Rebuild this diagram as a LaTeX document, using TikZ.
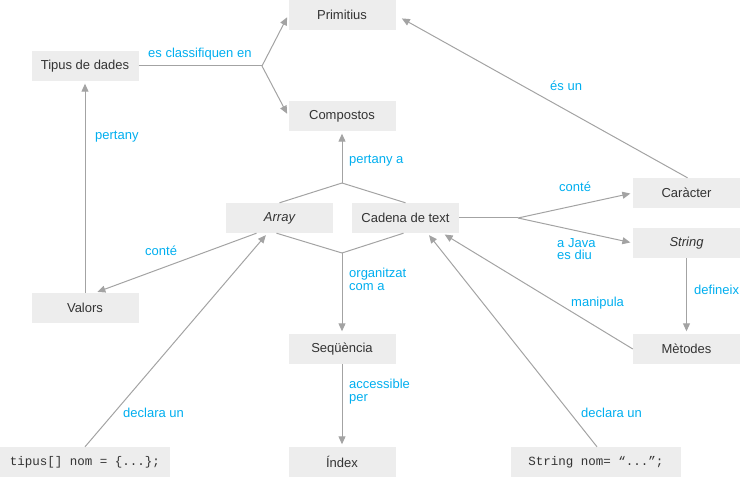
\documentclass[tikz,border=0pt]{standalone}
\usepackage{fontspec}
\setmainfont{Liberation Sans}
\newfontfamily\codefont{Liberation Mono}
\usetikzlibrary{arrows.meta}
\definecolor{boxgray}{HTML}{EDEDED}
\definecolor{linegray}{HTML}{A3A3A3}
\definecolor{lblblue}{HTML}{00AEEF}
\definecolor{txtgray}{HTML}{333333}
\begin{document}
\begin{tikzpicture}[x=1pt,y=-1pt,
  concept/.style={fill=boxgray, text=txtgray, minimum width=107pt, minimum height=30pt, inner sep=0pt, font=\fontsize{13}{15}\selectfont},
  codebox/.style={concept, minimum width=170pt, font=\codefont\fontsize{12.5}{15}\selectfont},
  lbl/.style={text=lblblue, inner sep=0pt, anchor=base west, align=left, font=\fontsize{13}{13}\selectfont},
  link/.style={draw=linegray, line width=1pt},
  arrow/.style={link, -{Triangle[length=8pt,width=7pt]}, shorten >=2.5pt}]
\useasboundingbox (0,0) rectangle (741,478);
% concepts
\node[concept] (pri) at (342,15) {Primitius};
\node[concept] (tip) at (85,66) {Tipus de dades};
\node[concept] (com) at (342,116) {Compostos};
\node[concept] (ary) at (279.5,218) {\itshape Array};
\node[concept] (cad) at (405.5,218) {Cadena de text};
\node[concept] (car) at (686.5,193) {Caràcter};
\node[concept] (str) at (686.5,243) {\itshape String};
\node[concept] (val) at (85,308) {Valors};
\node[concept] (seq) at (342,349) {Seqüència};
\node[concept] (met) at (686.5,349) {Mètodes};
\node[concept] (idx) at (342,462) {Índex};
\node[codebox] (cod1) at (85,462) {tipus[] nom = \{...\};};
\node[codebox] (cod2) at (596,462) {String nom= “...”;};
% junctions
\coordinate (j1) at (262,66);
\coordinate (j2) at (342,183);
\coordinate (j3) at (342,253);
\coordinate (j4) at (518,218);
% links
\draw[link] (tip.east) -- (j1);
\draw[arrow] (j1) -- (pri.west);
\draw[arrow] (j1) -- (com.west);
\draw[arrow] (val.north) -- (tip.south);
\draw[link] (ary.north) -- (j2);
\draw[link] (cad.north) -- (j2);
\draw[arrow] (j2) -- (com.south);
\draw[link] ([xshift=-3pt]ary.south) -- (j3);
\draw[link] ([xshift=-2pt]cad.south) -- (j3);
\draw[arrow] (j3) -- (seq.north);
\draw[arrow] ([xshift=-23pt]ary.south) -- ([xshift=10pt]val.north);
\draw[arrow] (cod1.north) -- ([xshift=-12pt]ary.south);
\draw[arrow] (seq.south) -- (idx.north);
\draw[link] (cad.east) -- (j4);
\draw[arrow] (j4) -- (car.west);
\draw[arrow] (j4) -- (str.west);
\draw[arrow, shorten >=7pt] ([xshift=1pt]car.north) -- (pri.east);
\draw[arrow] (str.south) -- (met.north);
\draw[arrow] (met.west) -- ([xshift=37pt]cad.south);
\draw[arrow] ([xshift=1pt]cod2.north) -- ([xshift=22pt]cad.south);
% labels
\node[lbl] (l1) at (148,58) {es classifiquen en};
\node[lbl] (l2) at (95,140) {pertany};
\node[lbl] (l3) at (349,164) {pertany a};
\node[lbl] (l4) at (550,91) {és un};
\node[lbl] (l5) at (559,192) {conté};
\node[lbl] (l6) at (557,260) {a Java\\es diu};
\node[lbl] (l7) at (145,255) {conté};
\node[lbl] (l8) at (349,290) {organitzat\\com a};
\node[lbl] (l9) at (349,401) {accessible\\per};
\node[lbl] (l10) at (123,417) {declara un};
\node[lbl] (l11) at (694,294) {defineix};
\node[lbl] (l12) at (571,306) {manipula};
\node[lbl] (l13) at (581,417) {declara un};
\end{tikzpicture}
\end{document}
